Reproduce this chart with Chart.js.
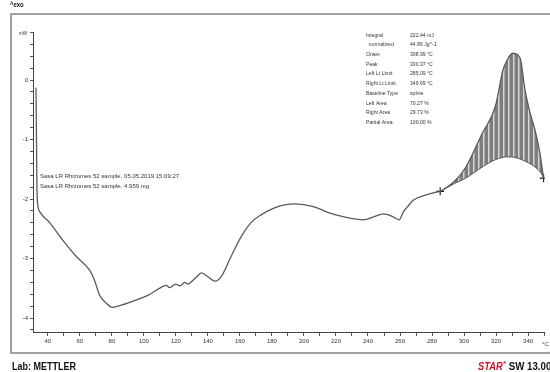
<!DOCTYPE html>
<html>
<head>
<meta charset="utf-8">
<script src="https://cdn.jsdelivr.net/npm/chart.js@4.4.0/dist/chart.umd.min.js"></script>
<style>
  html, body { margin: 0; padding: 0; background: #ffffff; }
  canvas { display: block; }
</style>
</head>
<body>
<canvas id="dsc" width="550" height="372"></canvas>
<script>
// DSC heat-flow curve, temperature in °C, heat flow in mW (exo up)
const temperature = [
  32.6, 32.9, 33.2, 34.0, 35.1, 41.2, 49.3, 57.9, 66.0, 69.1, 72.2, 76.5, 80.2,
  86.4, 95.0, 103.1, 111.1, 114.0, 116.0, 119.8, 122.5, 125.5, 127.5, 129.7,
  134.0, 135.9, 140.2, 144.5, 148.2, 154.4, 160.6, 166.8, 173.0, 181.6, 187.8,
  194.0, 206.4, 214.4, 224.9, 237.3, 243.5, 249.6, 255.8, 259.5, 262.0, 265.0,
  268.2, 276.2, 282.0, 285.1, 294.8, 301.0, 311.5, 319.5, 322.6, 323.9, 327.0,
  330.4, 335.0, 338.1, 341.2, 344.3, 347.4, 349.2, 349.7
];
const heatFlow = [
  -0.13, -1.01, -1.85, -2.15, -2.22, -2.40, -2.69, -2.97, -3.19, -3.36, -3.61, -3.75, -3.82,
  -3.78, -3.70, -3.61, -3.48, -3.45, -3.49, -3.43, -3.46, -3.40, -3.43, -3.39,
  -3.28, -3.24, -3.31, -3.38, -3.31, -2.97, -2.64, -2.40, -2.27, -2.15, -2.10,
  -2.08, -2.13, -2.22, -2.30, -2.35, -2.30, -2.25, -2.30, -2.35, -2.22, -2.12,
  -2.02, -1.93, -1.89, -1.87, -1.68, -1.47, -0.89, -0.45, -0.05, 0.13, 0.34,
  0.45, 0.37, -0.17, -0.55, -0.84, -1.23, -1.56, -1.65
];

// Spline baseline under the exothermic peak
const baselineTemp = [285.1, 294.8, 301.0, 311.5, 319.5, 327.5, 333.0, 340.0, 344.3, 348.5, 349.7];
const baselineFlow = [-1.87, -1.73, -1.65, -1.46, -1.34, -1.29, -1.31, -1.39, -1.46, -1.58, -1.65];

// Integration results
const resultLabels = ['Integral', '  normalized', 'Onset', 'Peak', 'Left Lt Limit', 'Right Lt Limit',
  'Baseline Type', 'Left Area', 'Right Area', 'Partial Area'];
const resultValues = ['222.44 mJ', '44.86 Jg^-1', '308.99 °C', '330.37 °C', '285.09 °C', '349.69 °C',
  'spline', '70.27 %', '29.73 %', '100.00 %'];

const sampleLines = [
  'Sasa LR Rhizomes 52 sample, 05.05.2019 15:09:27',
  'Sasa LR Rhizomes 52 sample, 4.959 mg'
];

const xLabelStep = 20;
const xMinorStep = 10;
const yMinorStep = 0.2;

const toPoints = (xs, ys) => xs.map((x, i) => ({ x: x, y: ys[i] }));
const curvePoints = toPoints(temperature, heatFlow);
const peakStart = baselineTemp[0];
const peakPoints = curvePoints.filter(p => p.x >= peakStart);
const basePoints = toPoints(baselineTemp, baselineFlow);

// Hatched fill for the integrated area
function hatchPattern() {
  const c = document.createElement('canvas');
  c.width = 5; c.height = 4;
  const g = c.getContext('2d');
  g.fillStyle = '#7e7e7e';
  g.fillRect(0, 0, 5, 4);
  g.fillStyle = '#d6d6d6';
  g.fillRect(3, 0, 1.5, 4);
  return g.createPattern(c, 'repeat');
}

const SANS = "'Liberation Sans', Arial, sans-serif";

// text squeezed horizontally to mimic a condensed face
function narrowText(ctx, text, x, y, squeeze) {
  ctx.save();
  ctx.translate(x, y);
  ctx.scale(squeeze, 1);
  ctx.fillText(text, 0, 0);
  const w = ctx.measureText(text).width * squeeze;
  ctx.restore();
  return w;
}

const decorations = {
  id: 'decorations',
  afterDraw(chart) {
    const ctx = chart.ctx;
    ctx.save();
    // outer frame
    ctx.strokeStyle = '#8a8a8a';
    ctx.lineWidth = 1.6;
    ctx.strokeRect(11, 14, 600, 339);

    ctx.fillStyle = '#111';
    ctx.textBaseline = 'middle';
    ctx.textAlign = 'left';
    ctx.font = 'bold 7px ' + SANS;
    narrowText(ctx, '^exo', 10, 5, 0.85);

    ctx.font = '5px ' + SANS;
    ctx.fillStyle = '#333';
    narrowText(ctx, 'mW', 19, 34, 0.9);

    // sample description
    ctx.font = '6px ' + SANS;
    sampleLines.forEach((t, i) => narrowText(ctx, t, 40, 176 + i * 10, 1));

    // results table
    ctx.font = '6px ' + SANS;
    resultLabels.forEach((t, i) => {
      const y = 35 + i * 9.7;
      narrowText(ctx, t, 366, y, 0.85);
      narrowText(ctx, resultValues[i], 410, y, 0.85);
    });

    // unit on x axis
    ctx.font = '6px ' + SANS;
    ctx.fillText('°C', 542, 344);

    // footer
    ctx.fillStyle = '#111';
    ctx.textBaseline = 'alphabetic';
    ctx.font = 'bold 11px ' + SANS;
    narrowText(ctx, 'Lab: METTLER', 12, 370, 0.82);
    ctx.fillStyle = '#c8102e';
    ctx.font = 'bold italic 11px ' + SANS;
    const w = narrowText(ctx, 'STAR', 478, 370, 0.85);
    ctx.font = 'bold 6px ' + SANS;
    narrowText(ctx, 'e', 478 + w + 0.5, 364, 0.9);
    ctx.fillStyle = '#111';
    ctx.font = 'bold 11px ' + SANS;
    narrowText(ctx, 'SW 13.00', 478 + w + 6, 370, 0.88);
    ctx.restore();
  }
};

const isMultiple = (v, step) => Math.abs(v / step - Math.round(v / step)) < 1e-6;

new Chart(document.getElementById('dsc'), {
  type: 'line',
  data: {
    datasets: [
      {
        label: 'Heat flow',
        data: curvePoints,
        borderColor: '#5a5a5a',
        borderWidth: 1.3,
        pointRadius: 0,
        cubicInterpolationMode: 'monotone',
        fill: false,
        order: 0
      },
      {
        label: 'Peak area',
        data: peakPoints,
        borderWidth: 0,
        borderColor: 'rgba(0,0,0,0)',
        backgroundColor: hatchPattern(),
        pointRadius: 0,
        cubicInterpolationMode: 'monotone',
        fill: { target: 2 },
        order: 2
      },
      {
        label: 'Baseline',
        data: basePoints,
        borderColor: '#5a5a5a',
        borderWidth: 1,
        cubicInterpolationMode: 'monotone',
        pointStyle: 'cross',
        pointRadius: ctx => (ctx.dataIndex === 0 || ctx.dataIndex === basePoints.length - 1) ? 4 : 0,
        pointBorderColor: '#222',
        pointBorderWidth: 1.2,
        fill: false,
        order: 1
      }
    ]
  },
  options: {
    responsive: false,
    devicePixelRatio: 1,
    animation: false,
    layout: { padding: { top: 32, left: 0, right: 0, bottom: 0 } },
    plugins: { legend: { display: false }, tooltip: { enabled: false } },
    scales: {
      x: {
        type: 'linear',
        min: 30.72,
        max: 350.45,
        afterFit: s => { s.height = 40; },
        border: { display: true, color: '#444', width: 1 },
        grid: { drawOnChartArea: false, drawTicks: true, tickLength: 4, color: '#555' },
        ticks: {
          stepSize: xMinorStep,
          includeBounds: false,
          autoSkip: false,
          maxRotation: 0,
          padding: 2,
          color: '#333',
          font: { size: 6, family: SANS },
          callback: v => (isMultiple(v, xLabelStep) && v <= 340) ? String(Math.round(v)) : ''
        }
      },
      y: {
        type: 'linear',
        min: -4.235,
        max: 0.807,
        afterFit: s => { s.width = 33; },
        border: { display: true, color: '#444', width: 1 },
        grid: { drawOnChartArea: false, drawTicks: true, tickLength: 3, color: '#555' },
        ticks: {
          stepSize: yMinorStep,
          includeBounds: false,
          autoSkip: false,
          padding: 2,
          color: '#333',
          font: { size: 6, family: SANS },
          callback: v => isMultiple(v, 1) ? String(Math.round(v)) : ''
        }
      }
    }
  },
  plugins: [decorations]
});
</script>
</body>
</html>
